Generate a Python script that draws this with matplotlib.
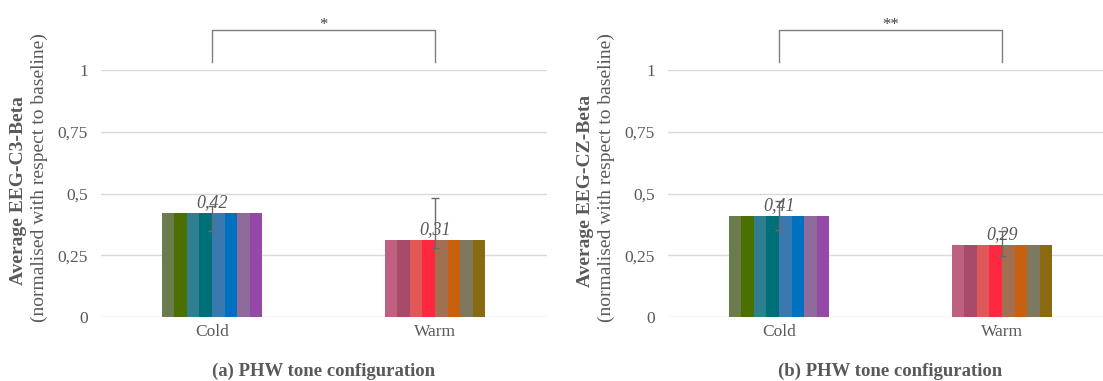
import matplotlib.pyplot as plt
import numpy as np

plt.rcParams['font.family'] = ['Liberation Serif', 'DejaVu Serif']

categories = ["Cold", "Warm"]

# group means (each coloured sub-bar shows the same mean)
c3_means = [0.42, 0.31]
cz_means = [0.41, 0.29]

# asymmetric error bars: (lower, upper)
c3_err_low = [0.07, 0.03]
c3_err_high = [0.03, 0.17]
cz_err_low = [0.057, 0.044]
cz_err_high = [0.06, 0.057]

cold_colors = ["#6B7B4E", "#4B7000", "#2E7F8F", "#007078",
               "#3A78B0", "#0070C0", "#8E6B9A", "#9448A8"]
warm_colors = ["#C06080", "#A84A6A", "#E05858", "#FF2840",
               "#A07050", "#C86010", "#7E7860", "#8A6A10"]

yticks = [0, 0.25, 0.5, 0.75, 1]
ytick_labels = ["0", "0,25", "0,5", "0,75", "1"]

TEXT = "#595959"
GRID = "#D9D9D9"

W, H = 1103, 381
fig = plt.figure(figsize=(W / 100, H / 100), dpi=100)


def panel(x0, means, err_low, err_high, ylab, caption, star):
    ax = fig.add_axes([x0 / W, 64 / H, 446 / W, 247 / H])
    x = np.arange(len(categories))
    n = len(cold_colors)
    group_w = 0.45
    w = group_w / n
    for i, (mean, cols) in enumerate(zip(means, [cold_colors, warm_colors])):
        offs = -group_w / 2 + w / 2 + w * np.arange(n)
        ax.bar(x[i] + offs, [mean] * n, width=w, color=cols, zorder=2)
    ax.errorbar(x, means, yerr=[err_low, err_high], fmt="none",
                ecolor="#6A6A6A", elinewidth=1, capsize=3, zorder=3)
    for xi, m in zip(x, means):
        ax.text(xi, m + 0.008, f"{m:.2f}".replace(".", ","), ha="center",
                va="bottom", style="italic", fontsize=13, color=TEXT, zorder=4)

    ax.set_xlim(-0.5, 1.5)
    ax.set_ylim(0, 1)
    ax.set_yticks(yticks)
    ax.set_yticklabels(ytick_labels)
    ax.set_xticks(x)
    ax.set_xticklabels(categories)
    ax.tick_params(length=0, labelsize=12.5, colors=TEXT, pad=9)
    ax.tick_params(axis="x", pad=5)
    ax.grid(axis="y", color=GRID, lw=1, zorder=0)
    for s in ax.spines.values():
        s.set_visible(False)

    # significance bracket
    ax.plot([0, 0, 1, 1], [1.032, 1.162, 1.162, 1.032], color="#7F7F7F",
            lw=1, clip_on=False)
    ax.text(0.5, 1.15, star, ha="center", va="bottom", fontsize=12,
            color="#404040", clip_on=False)

    ax.text(-0.183, 0.51, ylab[0], rotation=90, ha="center", va="center",
            transform=ax.transAxes, fontsize=14, fontweight="bold", color=TEXT)
    ax.text(-0.137, 0.565, ylab[1], rotation=90, ha="center", va="center",
            transform=ax.transAxes, fontsize=14, color=TEXT)
    ax.text(0.5, -0.22, caption, ha="center", va="center",
            transform=ax.transAxes, fontsize=13.5, fontweight="bold", color=TEXT)
    return ax


panel(100.5, c3_means, c3_err_low, c3_err_high,
      ["Average EEG-C3-Beta", "(normalised with respect to baseline)"],
      "(a) PHW tone configuration", "*")
panel(667.5, cz_means, cz_err_low, cz_err_high,
      ["Average EEG-CZ-Beta", "(normalised with respect to baseline)"],
      "(b) PHW tone configuration", "**")

fig.savefig("out.png", dpi=100)
